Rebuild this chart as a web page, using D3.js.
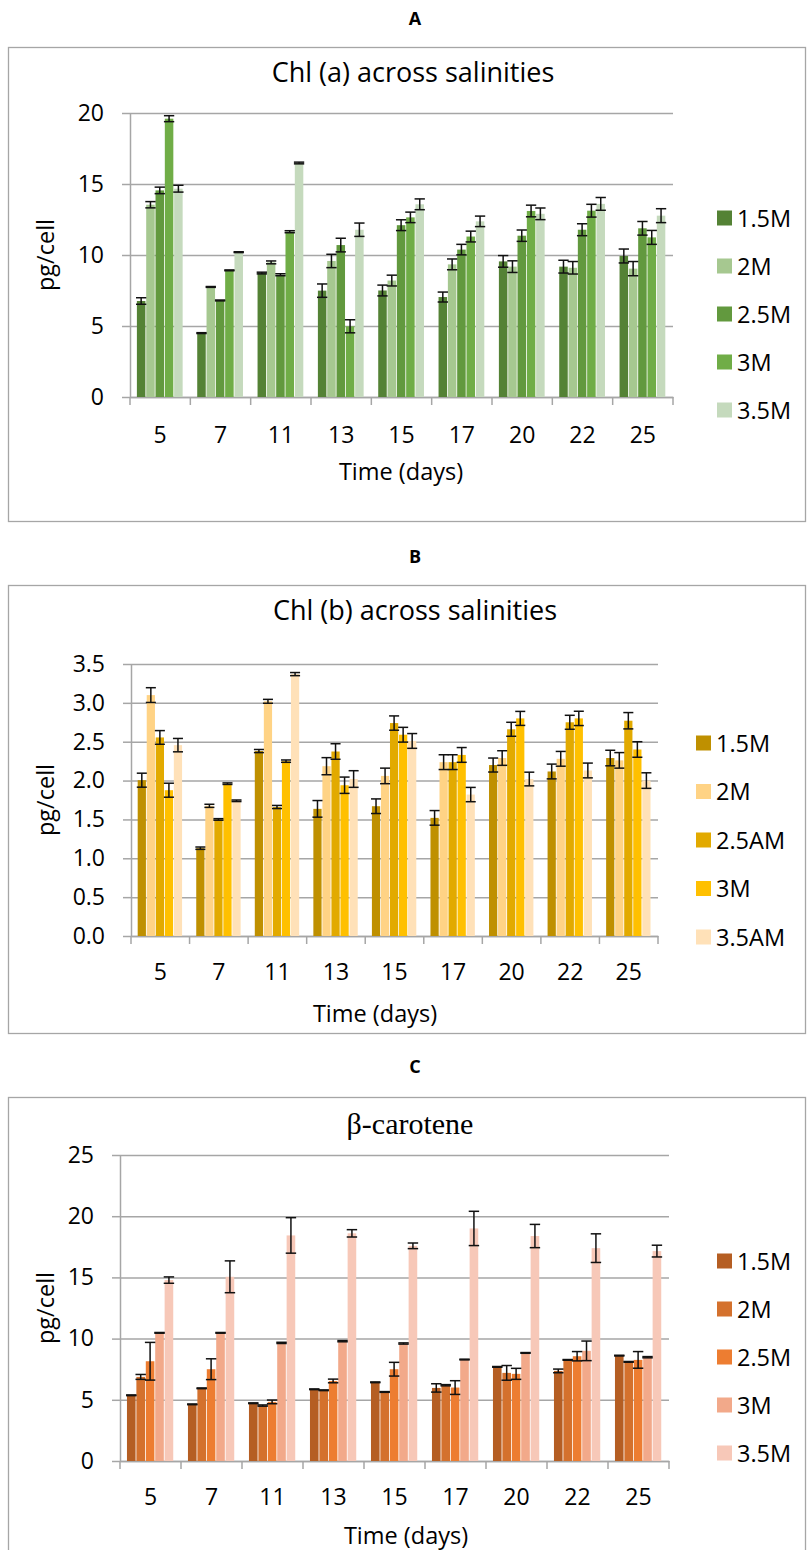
<!DOCTYPE html>
<html>
<head>
<meta charset="utf-8">
<script src="https://d3js.org/d3.v7.min.js"></script>
<style>
  body { margin: 0; background: #fff; }
  svg { display: block; font-family: "Open Sans", "Liberation Sans", sans-serif; }
</style>
</head>
<body>
<div id="chart"></div>
<script>
// shared categories
const days = ['5', '7', '11', '13', '15', '17', '20', '22', '25'];

// Panel A: Chl (a), pg/cell
const chlASeries = ['1.5M', '2M', '2.5M', '3M', '3.5M'];
const chlA_15 = [6.76, 4.5, 8.73, 7.49, 7.5, 7.04, 9.55, 9.18, 9.93];
const chlA_2 = [13.54, 7.75, 9.48, 9.58, 8.2, 9.34, 9.18, 9.1, 9.04];
const chlA_25 = [14.55, 6.8, 8.61, 10.7, 12.1, 10.38, 11.36, 11.78, 11.88];
const chlA_3 = [19.6, 8.92, 11.64, 4.98, 12.65, 11.3, 13.1, 13.12, 11.24];
const chlA_35 = [14.67, 10.2, 16.48, 11.78, 13.57, 12.37, 12.9, 13.6, 12.77];
const chlAErr_15 = [0.23, 0.03, 0.06, 0.47, 0.38, 0.35, 0.41, 0.45, 0.49];
const chlAErr_2 = [0.22, 0.03, 0.1, 0.47, 0.38, 0.38, 0.41, 0.44, 0.5];
const chlAErr_25 = [0.23, 0.03, 0.07, 0.48, 0.38, 0.37, 0.4, 0.42, 0.48];
const chlAErr_3 = [0.21, 0.03, 0.07, 0.46, 0.37, 0.38, 0.41, 0.45, 0.49];
const chlAErr_35 = [0.24, 0.03, 0.06, 0.47, 0.38, 0.37, 0.41, 0.45, 0.49];
const chlATicks = [0, 5, 10, 15, 20];

// Panel B: Chl (b), pg/cell
const chlBSeries = ['1.5M', '2M', '2.5AM', '3M', '3.5AM'];
const chlB_15 = [2.005, 1.13, 2.38, 1.636, 1.67, 1.52, 2.2, 2.117, 2.29];
const chlB_2 = [3.1, 1.675, 3.02, 2.185, 2.06, 2.237, 2.29, 2.28, 2.26];
const chlB_25 = [2.555, 1.5, 1.66, 2.374, 2.74, 2.237, 2.66, 2.75, 2.77];
const chlB_3 = [1.876, 1.96, 2.25, 1.94, 2.59, 2.33, 2.8, 2.8, 2.4];
const chlB_35 = [2.456, 1.74, 3.37, 2.02, 2.51, 1.82, 2.02, 2.13, 2.0];
const chlBErr_15 = [0.09, 0.015, 0.02, 0.107, 0.094, 0.094, 0.09, 0.095, 0.1];
const chlBErr_2 = [0.095, 0.02, 0.025, 0.11, 0.1, 0.095, 0.094, 0.095, 0.1];
const chlBErr_25 = [0.088, 0.01, 0.02, 0.1, 0.092, 0.095, 0.09, 0.09, 0.105];
const chlBErr_3 = [0.09, 0.01, 0.015, 0.105, 0.095, 0.095, 0.09, 0.092, 0.1];
const chlBErr_35 = [0.086, 0.01, 0.02, 0.107, 0.095, 0.092, 0.088, 0.095, 0.1];
const chlBTicks = [0, 0.5, 1, 1.5, 2, 2.5, 3, 3.5];

// Panel C: beta-carotene, pg/cell
const carSeries = ['1.5M', '2M', '2.5M', '3M', '3.5M'];
const car_15 = [5.37, 4.63, 4.72, 5.86, 6.43, 5.97, 7.69, 7.36, 8.61];
const car_2 = [6.87, 5.94, 4.53, 5.78, 5.64, 6.19, 7.2, 8.26, 8.1];
const car_25 = [8.15, 7.5, 4.83, 6.54, 7.5, 6.0, 7.12, 8.56, 8.26];
const car_3 = [10.47, 10.47, 9.65, 9.79, 9.6, 8.29, 8.83, 9.0, 8.48];
const car_35 = [14.78, 15.05, 18.43, 18.6, 17.58, 19.0, 18.38, 17.39, 17.15];
const carErr_15 = [0.03, 0.03, 0.03, 0.03, 0.03, 0.34, 0.03, 0.15, 0.03];
const carErr_2 = [0.2, 0.03, 0.05, 0.03, 0.03, 0.05, 0.6, 0.03, 0.03];
const carErr_25 = [1.54, 0.85, 0.15, 0.15, 0.56, 0.56, 0.45, 0.38, 0.68];
const carErr_3 = [0.03, 0.03, 0.05, 0.05, 0.05, 0.03, 0.03, 0.8, 0.05];
const carErr_35 = [0.26, 1.3, 1.45, 0.3, 0.23, 1.4, 0.95, 1.17, 0.48];
const carTicks = [0, 5, 10, 15, 20, 25];

const svg = d3.select('#chart').append('svg')
  .attr('width', 809).attr('height', 1550);

const GRID = '#a6a6a6';

function drawPanel(p) {
  const g = svg.append('g');

  // panel letter
  g.append('text')
    .attr('x', 415).attr('y', p.letterY)
    .attr('text-anchor', 'middle')
    .attr('font-weight', 'bold').attr('font-size', 18)
    .text(p.letter);

  // frame
  g.append('rect')
    .attr('x', 8.5).attr('y', p.boxTop + 0.5)
    .attr('width', 797).attr('height', p.boxH)
    .attr('fill', 'none').attr('stroke', GRID).attr('stroke-width', 1.3);

  // chart title
  g.append('text')
    .attr('x', p.titleX).attr('y', p.titleY)
    .attr('text-anchor', 'middle')
    .attr('font-size', p.titleSize)
    .style('font-family', p.titleFont || null)
    .text(p.title);

  const x0 = d3.scaleBand().domain(days).range([p.left, p.right]);
  const x1 = d3.scaleBand().domain(p.series).range([0, x0.bandwidth()])
    .paddingInner(0).paddingOuter(0.74);
  const y = d3.scaleLinear().domain([0, p.ticks[p.ticks.length - 1]]).range([p.bottom, p.top]);

  // gridlines
  g.append('g')
    .attr('transform', `translate(${p.left},0)`)
    .call(d3.axisLeft(y).tickValues(p.ticks).tickSize(-(p.right - p.left)).tickFormat(''))
    .call(a => a.select('.domain').remove())
    .call(a => a.selectAll('line').attr('stroke', GRID).attr('stroke-width', 1.5));

  // y axis with outward ticks
  g.append('g')
    .attr('transform', `translate(${p.left},0)`)
    .call(d3.axisLeft(y).tickValues(p.ticks).tickSize(8).tickSizeOuter(0).tickPadding(18)
      .tickFormat(p.fmt))
    .call(a => a.select('.domain').attr('stroke', GRID).attr('stroke-width', 1.5))
    .call(a => a.selectAll('line').attr('stroke', GRID).attr('stroke-width', 1.5))
    .call(a => a.selectAll('text').attr('font-size', 23).attr('fill', '#000')
      .attr('font-family', 'Open Sans'));

  // x axis: labels at category centres, tick marks at category boundaries
  g.append('g')
    .attr('transform', `translate(0,${p.bottom})`)
    .call(d3.axisBottom(x0).tickSize(0).tickPadding(p.xLabelPad))
    .call(a => a.select('.domain').attr('stroke', GRID).attr('stroke-width', 1.5))
    .call(a => a.selectAll('text').attr('font-size', 23).attr('fill', '#000')
      .attr('font-family', 'Open Sans'));

  const bounds = days.map(d => x0(d)).concat([p.right]);
  g.append('g').selectAll('line').data(bounds).join('line')
    .attr('x1', d => d).attr('x2', d => d)
    .attr('y1', p.bottom).attr('y2', p.bottom + 8)
    .attr('stroke', GRID).attr('stroke-width', 1.5);

  // bars
  const rows = [];
  p.series.forEach((s, si) => {
    days.forEach((d, di) => {
      rows.push({ day: d, s, si, v: p.values[si][di], e: p.errors[si][di] });
    });
  });

  g.append('g').selectAll('rect').data(rows).join('rect')
    .attr('x', d => x0(d.day) + x1(d.s))
    .attr('y', d => y(d.v))
    .attr('width', x1.bandwidth() - 0.8)
    .attr('height', d => y(0) - y(d.v))
    .attr('fill', d => p.colors[d.si]);

  // error bars
  const eg = g.append('g').attr('stroke', '#111').attr('stroke-width', 1.5);
  rows.forEach(d => {
    const cx = x0(d.day) + x1(d.s) + x1.bandwidth() / 2 - 0.4;
    const hw = x1.bandwidth() / 2 + 0.5;
    const yt = y(d.v + d.e), yb = y(d.v - d.e);
    eg.append('line').attr('x1', cx).attr('x2', cx).attr('y1', yt).attr('y2', yb);
    eg.append('line').attr('x1', cx - hw).attr('x2', cx + hw).attr('y1', yt).attr('y2', yt);
    eg.append('line').attr('x1', cx - hw).attr('x2', cx + hw).attr('y1', yb).attr('y2', yb);
  });

  // axis titles
  g.append('text')
    .attr('x', p.xTitleX).attr('y', p.xTitleY)
    .attr('text-anchor', 'middle').attr('font-size', 23.5)
    .text('Time (days)');

  g.append('text')
    .attr('transform', `translate(45,${(p.top + p.bottom) / 2}) rotate(-90)`)
    .attr('text-anchor', 'middle').attr('dominant-baseline', 'central')
    .attr('font-size', 23.5)
    .text('pg/cell');

  // legend
  const lg = g.append('g');
  p.series.forEach((s, i) => {
    const cy = p.legendY0 + i * p.legendStep;
    lg.append('rect')
      .attr('x', p.legendX).attr('y', cy - 7.5)
      .attr('width', 15).attr('height', 15)
      .attr('fill', p.colors[i]);
    lg.append('text')
      .attr('x', p.legendX + 20).attr('y', cy + 8.5)
      .attr('font-size', 23.5)
      .text(s);
  });
}

drawPanel({
  letter: 'A', letterY: 25, boxTop: 47, boxH: 474,
  title: 'Chl (a) across salinities', titleX: 413, titleY: 82, titleSize: 27,
  left: 130, right: 673, top: 113, bottom: 397,
  ticks: chlATicks, fmt: d3.format('d'), xLabelPad: 30,
  series: chlASeries,
  values: [chlA_15, chlA_2, chlA_25, chlA_3, chlA_35],
  errors: [chlAErr_15, chlAErr_2, chlAErr_25, chlAErr_3, chlAErr_35],
  colors: ['#548235', '#a6c890', '#62993e', '#70ad47', '#c5dabd'],
  xTitleX: 401, xTitleY: 480,
  legendX: 717, legendY0: 218, legendStep: 48
});

drawPanel({
  letter: 'B', letterY: 563, boxTop: 585, boxH: 448,
  title: 'Chl (b) across salinities', titleX: 415, titleY: 620, titleSize: 27,
  left: 131, right: 658, top: 664, bottom: 936,
  ticks: chlBTicks, fmt: d3.format('.1f'), xLabelPad: 28,
  series: chlBSeries,
  values: [chlB_15, chlB_2, chlB_25, chlB_3, chlB_35],
  errors: [chlBErr_15, chlBErr_2, chlBErr_25, chlBErr_3, chlBErr_35],
  colors: ['#bf9000', '#ffd385', '#e2aa00', '#ffc000', '#ffe1b8'],
  xTitleX: 375, xTitleY: 1022,
  legendX: 696, legendY0: 743, legendStep: 48.5
});

drawPanel({
  letter: 'C', letterY: 1073, boxTop: 1097, boxH: 500,
  title: 'β-carotene', titleX: 410, titleY: 1134, titleSize: 30, titleFont: 'Liberation Serif',
  left: 120, right: 669, top: 1155, bottom: 1461,
  ticks: carTicks, fmt: d3.format('d'), xLabelPad: 28,
  series: carSeries,
  values: [car_15, car_2, car_25, car_3, car_35],
  errors: [carErr_15, carErr_2, carErr_25, carErr_3, carErr_35],
  colors: ['#b55e23', '#d4712d', '#ed7d31', '#f2a98a', '#f7c8b8'],
  xTitleX: 406, xTitleY: 1544,
  legendX: 717, legendY0: 1261, legendStep: 48
});
</script>
</body>
</html>
